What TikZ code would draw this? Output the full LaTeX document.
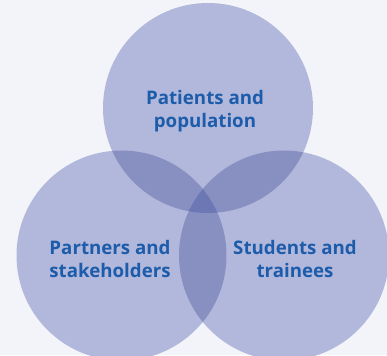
\documentclass[tikz,border=0pt]{standalone}
\usepackage{fontspec}
\setmainfont{Open Sans}
\definecolor{bgpage}{HTML}{F3F4F9}
\definecolor{onefill}{HTML}{B2B8DB}
\definecolor{twofill}{HTML}{8890C2}
\definecolor{threefill}{HTML}{6C78B4}
\definecolor{labelblue}{HTML}{1C5CAA}

\begin{document}
\begin{tikzpicture}[
  x=1pt, y=1pt,
  font=\bfseries\fontsize{18.7}{23.5}\selectfont,
  ring/.style={circle, fill=onefill, minimum size=210pt, inner sep=0pt},
  lbl/.style={text=labelblue, align=center}
]
\fill[bgpage] (0,0) rectangle (387,355);
\useasboundingbox (0,0) rectangle (387,355);
% the three circles
\node[ring] (pat) at (208,247) {};
\node[ring] (par) at (121.5,99.5) {};
\node[ring] (stu) at (284,99.5) {};
% pairwise overlaps
\begin{scope}
  \clip (pat.center) circle (105);
  \fill[twofill] (par.center) circle (105);
  \fill[twofill] (stu.center) circle (105);
\end{scope}
\begin{scope}
  \clip (par.center) circle (105);
  \fill[twofill] (stu.center) circle (105);
  \clip (stu.center) circle (105);
  \fill[threefill] (pat.center) circle (105);
\end{scope}
% labels
\node[lbl] (patlbl) at (205,244) {Patients and\\population};
\node[lbl] (parlbl) at (110,96) {Partners and\\stakeholders};
\node[lbl] (stulbl) at (295,96) {Students and\\trainees};
\end{tikzpicture}
\end{document}
